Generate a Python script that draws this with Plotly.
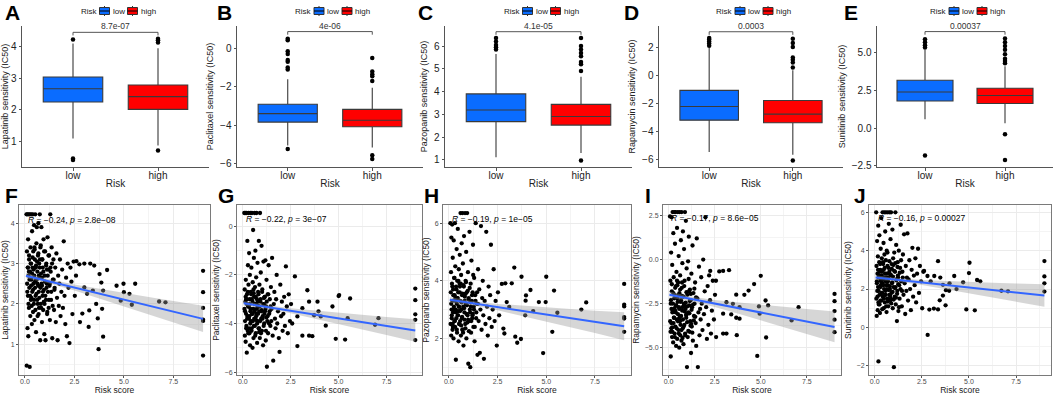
import numpy as np
import plotly.graph_objects as go

W, H = 1059, 395

# ---------------- box-plot panels (A-E) ----------------
drugs = ["Lapatinib", "Paclitaxel", "Pazopanib", "Rapamycin", "Sunitinib"]
groups = ["low", "high"]
box_letters = ["A", "B", "C", "D", "E"]
scatter_letters = ["F", "G", "H", "I", "J"]

low_q1 = [2.25, -3.83, 2.68, -3.22, 1.80]
low_median = [2.67, -3.39, 3.19, -2.24, 2.40]
low_q3 = [3.04, -2.90, 3.90, -1.09, 3.18]
low_lower = [1.10, -5.05, 1.12, -5.50, 0.60]
low_upper = [4.10, -1.60, 5.65, 1.95, 5.20]
high_q1 = [2.02, -4.07, 2.53, -3.41, 1.64]
high_median = [2.42, -3.73, 2.91, -2.79, 2.17]
high_q3 = [2.79, -3.17, 3.44, -1.82, 2.65]
high_lower = [0.88, -5.15, 1.30, -5.70, 0.33]
high_upper = [3.95, -2.05, 4.65, 0.35, 4.10]

low_outliers = [
    [4.22, 0.47, 0.42],
    [0.50, 0.42, -0.15, -0.30, -0.60, -0.70, -1.00, -1.10, -5.23],
    [5.85, 5.95, 6.05, 6.20, 6.35],
    [2.10, 2.25, 2.40, 2.55, 2.65],
    [5.35, 5.50, 5.70, 5.90, -1.80],
]
high_outliers = [
    [4.13, 4.20, 4.25, 0.72],
    [-0.50, -1.20, -1.35, -1.45, -1.70, -5.55, -5.75],
    [4.90, 5.20, 5.30, 5.55, 5.70, 5.85, 6.00, 6.35, 0.98],
    [0.55, 0.90, 1.10, 1.25, 2.00, 2.30, 2.60, -6.10],
    [4.30, 4.45, 4.60, 4.90, 5.20, 5.45, 5.70, 5.95, -0.40, -2.10],
]
p_values = ["8.7e-07", "4e-06", "4.1e-05", "0.0003", "0.00037"]
bracket_y = [4.45, 0.87, 6.63, 3.10, 6.40]
box_yrange = [[0.20, 4.65], [-6.16, 1.16], [0.69, 6.88], [-6.57, 3.51], [-2.57, 6.77]]
box_dtick = [1, 2, 1, 2, 2.5]
box_tickformat = ["", "", "", "", ".1f"]

# ---------------- scatter panels (F-J) ----------------
risk_dense = [
    0.08, 0.09, 0.10, 0.11, 0.12, 0.13, 0.14, 0.15, 0.16, 0.17,
    0.18, 0.19, 0.20, 0.21, 0.22, 0.24, 0.25, 0.26, 0.27, 0.28,
    0.30, 0.31, 0.32, 0.33, 0.35, 0.36, 0.37, 0.38, 0.40, 0.41,
    0.42, 0.43, 0.45, 0.46, 0.47, 0.48, 0.50, 0.51, 0.52, 0.54,
    0.55, 0.56, 0.58, 0.59, 0.60, 0.62, 0.63, 0.64, 0.66, 0.67,
    0.68, 0.70, 0.71, 0.72, 0.74, 0.75, 0.77, 0.78, 0.80, 0.81,
    0.83, 0.84, 0.86, 0.87, 0.89, 0.90, 0.92, 0.94, 0.96, 0.98,
    1.00, 1.02, 1.04, 1.06, 1.08, 1.10, 1.12, 1.14, 1.16, 1.18,
    1.20, 1.22, 1.24, 1.26, 1.28, 1.30, 1.32, 1.35, 1.38, 1.41,
    1.44, 1.47, 1.50, 1.53, 1.56, 1.59, 1.62, 1.65, 1.68, 1.71,
    1.74, 1.77, 1.80, 1.84, 1.88, 1.92, 1.96, 2.00, 2.04, 2.08,
    2.12, 2.16, 2.20, 2.25, 2.30, 2.35, 2.40, 2.46, 2.52, 2.58,
]
risk_core = [
    0.12, 0.15, 0.18, 0.21, 0.23, 0.26, 0.29, 0.31, 0.34, 0.36,
    0.39, 0.41, 0.44, 0.46, 0.49, 0.51, 0.53, 0.56, 0.58, 0.61,
    0.63, 0.65, 0.68, 0.70, 0.73, 0.75, 0.78, 0.80, 0.82, 0.85,
    0.88, 0.91, 0.93, 0.95, 0.97, 1.01, 1.03, 1.07, 1.09, 1.13,
    1.15, 1.19, 1.21, 1.25, 1.29, 1.33, 1.37, 1.40, 1.45, 1.49,
    0.20, 0.33, 0.48, 0.57, 0.69, 0.76, 0.86, 0.99, 1.11, 1.23,
]

lapatinib_dense = [
    4.22, 0.47, 3.3, 2.5, 4.22, 1.4, 2.9, 2.2, 3.6, 1.2,
    2.7, 4.22, 1.9, 3.1, 2.4, 0.44, 4.22, 2.8, 1.7, 3.4,
    2.1, 3.0, 4.22, 2.6, 1.5, 3.8, 2.3, 2.9, 4.22, 1.8,
    3.3, 2.5, 2.0, 3.95, 2.7, 1.6, 3.1, 2.4, 4.22, 2.2,
    2.9, 1.3, 3.5, 2.6, 3.9, 2.1, 2.8, 1.7, 3.2, 2.45,
    4.0, 2.3, 1.9, 3.0, 2.65, 4.22, 1.1, 3.4, 2.0, 2.75,
    3.9, 2.5, 1.55, 3.1, 2.2, 2.9, 1.85, 3.6, 2.35, 1.25,
    2.7, 3.3, 1.1, 2.1, 3.0, 2.5, 1.75, 3.65, 2.3, 2.85,
    1.9, 3.2, 2.45, 1.6, 4.22, 2.8, 2.1, 3.4, 1.15, 2.6,
    3.1, 1.85, 2.4, 2.9, 1.55, 3.25, 2.15, 1.1, 2.7, 1.95,
    2.5, 3.1, 1.7, 2.3, 2.85, 1.9, 3.55, 2.2, 1.5, 2.65,
    1.2, 3.0, 2.4, 1.03, 2.9, 2.55, 1.75, 3.05, 2.2, 2.7,
]
lapatinib_core = [
    2.3, 2.9, 2.0, 3.2, 2.6, 2.2, 3.0, 2.45, 1.95, 2.75,
    3.15, 2.35, 2.85, 2.1, 3.35, 2.55, 1.85, 2.95, 2.25, 3.05,
    2.5, 2.0, 3.25, 2.7, 2.15, 2.9, 2.4, 3.45, 1.9, 2.65,
    3.1, 2.3, 2.8, 2.05, 3.3, 2.55, 2.2, 2.95, 2.4, 1.8,
    2.7, 3.2, 2.1, 2.5, 2.9, 2.3, 3.0, 1.95, 2.6, 2.35,
    2.8, 2.15, 3.4, 2.6, 1.75, 3.1, 2.45, 2.0, 2.85, 2.5,
]
paclitaxel_dense = [
    0.55, -3.4, -2.6, -4.5, -3.9, 0.55, -3.1, -4.75, -2.2, -3.6,
    -3.0, -4.1, 0.55, -5.2, -2.8, -0.6, -3.7, -4.3, -1.6, -3.3,
    -2.4, 0.55, -3.8, -1.1, -4.4, -3.2, -2.0, -4.9, -3.5, 0.55,
    -2.7, -3.9, -1.7, -4.2, -3.0, 0.55, -3.6, -5.0, -2.3, -0.15,
    -3.4, -4.6, -1.3, -2.9, -3.8, 0.55, -4.1, -2.5, -1.0, -3.2,
    -4.4, -2.1, -3.6, 0.55, -3.0, -4.8, -1.5, -3.9, -2.7, -3.3,
    -4.2, -0.6, -3.5, -2.4, -4.6, 0.55, -3.1, -1.9, -3.8, -0.8,
    -4.3, -2.6, -3.7, -4.9, -1.45, -3.2, -4.0, -2.9, -3.5, -1.4,
    -4.7, -3.3, -2.2, -5.78, -3.9, -2.8, -4.4, -1.6, -3.6, -3.0,
    -4.1, -2.5, -3.4, -1.3, -4.5, -5.53, -3.2, -2.7, -3.8, -4.2,
    -3.0, -2.0, -4.0, -3.5, -4.6, -5.17, -2.4, -3.7, -3.1, -4.3,
    -3.6, -2.9, -4.1, -1.65, -3.3, -4.4, -2.8, -3.9, -3.2, -4.0,
]
paclitaxel_core = [
    -3.5, -2.9, -4.2, -3.2, -3.8, -2.7, -4.4, -3.3, -3.7, -3.0,
    -4.0, -3.4, -2.8, -4.3, -3.6, -3.1, -3.9, -2.6, -4.1, -3.5,
    -3.2, -4.5, -2.9, -3.7, -3.4, -4.0, -3.1, -3.6, -2.8, -4.2,
    -3.3, -3.9, -3.0, -4.4, -3.5, -2.7, -3.8, -3.2, -4.1, -3.6,
    -2.9, -3.4, -4.3, -3.1, -3.7, -2.8, -4.0, -3.5, -3.3, -3.9,
    -3.0, -4.2, -3.6, -2.75, -3.85, -3.25, -4.35, -3.45, -2.95, -3.75,
]
pazopanib_dense = [
    6.0, 2.5, 3.6, 4.3, 2.1, 5.5, 3.0, 2.8, 3.9, 5.95,
    3.3, 2.3, 4.8, 2.9, 3.7, 2.0, 5.4, 3.1, 4.1, 2.6,
    3.5, 6.0, 2.4, 4.5, 3.0, 1.26, 3.8, 2.7, 5.1, 3.2,
    2.2, 4.0, 3.4, 5.8, 2.8, 3.6, 1.9, 4.4, 3.1, 2.5,
    3.9, 4.9, 2.6, 3.3, 6.35, 2.1, 4.2, 3.0, 5.3, 2.7,
    3.5, 6.35, 2.3, 4.6, 3.1, 1.75, 3.8, 5.55, 2.9, 3.3,
    6.35, 2.5, 4.0, 3.2, 5.0, 2.0, 3.6, 6.35, 2.8, 4.3,
    1.12, 3.4, 2.6, 5.7, 3.0, 1.0, 3.9, 2.2, 4.7, 3.3,
    2.7, 3.6, 5.25, 2.4, 3.1, 4.1, 1.9, 3.5, 6.0, 2.9,
    3.2, 1.43, 4.4, 2.6, 3.7, 1.5, 3.0, 5.9, 2.3, 3.4,
    4.0, 2.8, 1.29, 3.3, 2.5, 5.7, 3.1, 2.1, 3.8, 2.7,
    3.5, 5.25, 2.4, 3.0, 4.4, 2.6, 3.3, 1.75, 3.6, 2.8,
]
pazopanib_core = [
    3.2, 2.7, 3.8, 2.4, 3.5, 3.0, 4.1, 2.6, 3.3, 2.9,
    3.7, 2.3, 3.4, 2.8, 4.0, 3.1, 2.5, 3.6, 2.95, 3.9,
    2.45, 3.25, 2.75, 3.55, 2.2, 3.85, 3.05, 2.65, 3.45, 2.35,
    3.95, 2.85, 3.15, 2.55, 3.65, 3.35, 2.25, 3.75, 2.9, 3.1,
    2.6, 3.5, 2.8, 4.2, 3.0, 2.4, 3.3, 2.7, 3.6, 3.2,
    2.5, 3.4, 2.95, 3.8, 2.3, 3.05, 3.55, 2.65, 3.25, 2.85,
]
rapamycin_dense = [
    2.45, -3.5, -1.2, -4.1, -5.5, -2.3, 0.4, -3.9, -2.8, 2.4,
    -1.8, -4.4, -0.3, -3.0, 2.7, -2.5, -4.7, 1.5, -3.6, -1.0,
    -3.3, 2.7, -2.0, -4.2, 0.9, -2.9, -3.8, 2.7, -1.5, -4.9,
    -2.6, -0.7, -3.4, 1.8, -4.5, -2.2, 2.7, -3.1, -1.3, -4.0,
    0.2, -2.7, -5.0, -1.9, 2.7, -3.5, -0.9, -4.3, -2.4, 1.1,
    -3.2, -4.6, 2.7, -1.6, -2.9, -0.2, -3.9, 1.6, -2.1, -4.8,
    -2.5, 0.6, -3.7, -1.2, 2.7, -4.2, -2.8, 2.2, -3.3, -0.5,
    -6.1, -2.0, -4.4, -0.1, -3.0, 1.3, -2.6, -4.1, -1.7, -3.5,
    -2.3, -5.3, -0.8, -3.8, -2.7, 0.8, -4.6, -1.9, -3.2, -2.5,
    -1.3, -3.6, -4.9, 1.2, -2.2, -6.1, -3.0, -0.4, -4.3, -2.8,
    -3.4, -1.0, -2.5, -4.0, 0.0, -3.1, -1.8, 2.4, -2.7, -4.5,
    -1.5, -3.7, -0.9, -2.3, -4.2, -2.9, -1.2, -3.4, -2.0, -4.4,
]
rapamycin_core = [
    -2.5, -3.6, -1.4, -4.1, -2.9, -1.9, -3.3, -2.2, -4.4, -1.6,
    -3.0, -2.6, -3.9, -1.2, -2.4, -3.5, -2.0, -4.2, -2.8, -3.2,
    -1.7, -3.7, -2.3, -4.0, -1.3, -2.7, -3.4, -2.1, -3.8, -1.5,
    -2.95, -4.3, -2.45, -3.15, -1.85, -3.55, -2.65, -4.05, -1.1, -3.05,
    -2.35, -3.75, -1.95, -2.85, -4.15, -2.55, -3.45, -1.65, -3.25, -2.15,
    -3.85, -2.75, -1.45, -3.35, -2.05, -4.45, -2.6, -3.1, -1.8, -3.65,
]
sunitinib_dense = [
    6.0, 1.5, 3.2, 0.6, 2.4, 4.5, 1.9, 2.8, 0.9, 3.7,
    2.1, 5.3, -1.77, 2.6, 1.2, 3.4, 4.8, 1.7, 2.9, 0.75,
    3.0, 1.4, 4.1, 2.2, 5.7, 1.8, 2.7, 3.6, 0.95, 2.3,
    6.0, 1.6, 3.3, 2.5, 4.4, 1.0, 2.0, 6.0, 3.8, 1.3,
    2.8, 5.0, 1.9, 3.5, 6.0, 2.2, 0.8, 4.0, 2.6, 1.5,
    3.9, 6.0, 2.4, 1.1, 3.1, 5.4, 1.7, 2.9, 6.0, 2.0,
    1.4, 4.6, 2.7, 6.0, 1.8, 3.3, 2.3, 5.1, 1.0, 3.6,
    2.1, -2.07, 3.9, 1.6, 2.9, 6.0, 1.2, 4.3, 2.5, 0.33,
    1.9, 3.4, 2.6, 0.85, 4.0, 2.2, 1.5, 3.1, 5.35, 2.4,
    1.1, 2.9, 3.8, 1.7, 4.85, 2.3, 0.7, 3.2, 1.9, 2.6,
    4.9, 1.4, 2.5, 3.5, 2.0, 0.9, 3.0, 4.15, 1.6, 2.7,
    2.2, 3.6, 1.3, 2.8, 4.1, 1.8, 3.2, 2.4, 1.0, 2.9,
]
sunitinib_core = [
    2.3, 1.6, 3.0, 1.9, 2.7, 1.2, 3.3, 2.1, 2.5, 1.4,
    2.9, 1.8, 3.4, 2.2, 1.5, 2.6, 3.1, 1.7, 2.4, 1.1,
    2.8, 2.0, 3.2, 1.35, 2.55, 1.95, 3.45, 2.15, 1.65, 2.75,
    1.25, 3.05, 2.35, 1.85, 2.65, 1.45, 2.95, 2.05, 3.35, 1.55,
    2.45, 1.75, 3.15, 2.25, 1.05, 2.85, 2.0, 3.5, 1.9, 2.6,
    1.3, 2.4, 3.0, 1.7, 2.2, 2.8, 1.5, 3.25, 2.1, 2.7,
]
dense_y = [lapatinib_dense, paclitaxel_dense, pazopanib_dense, rapamycin_dense, sunitinib_dense]
core_y = [lapatinib_core, paclitaxel_core, pazopanib_core, rapamycin_core, sunitinib_core]

lapatinib_sparse_x = [2.6, 2.75, 2.78, 2.9, 3.0, 3.0, 3.14, 3.22, 3.25, 3.3,
                      3.43, 3.5, 3.6, 3.68, 3.72, 3.77, 3.86, 3.9, 3.95, 3.95,
                      4.15, 4.63, 4.84, 4.98, 5.0, 5.28, 5.4, 5.57, 6.78, 7.1,
                      9, 9, 9, 9, 9, 9]
lapatinib_sparse_y = [3.06, 2.98, 1.55, 1.76, 3.0, 2.41, 2.25, 1.43, 1.84, 3.0,
                      2.33, 2.95, 2.0, 1.64, 0.88, 2.74, 2.53, 1.88, 1.19, 2.33,
                      2.84, 2.45, 2.08, 2.5, 2.29, 2.25, 1.98, 2.5, 2.06, 2.04,
                      2.82, 2.29, 1.9, 1.61, 1.58, 0.72]
paclitaxel_sparse_x = [2.72, 2.85, 2.85, 3.11, 3.11, 3.37, 3.46, 3.46, 3.63, 3.72,
                       3.9, 3.95, 4.07, 4.33, 4.68, 4.85, 5.0, 5.03, 5.34, 5.47,
                       5.6, 6.9, 7.08, 9, 9, 9, 9, 9]
paclitaxel_sparse_y = [-2.06, -4.93, -3.71, -4.5, -3.37, -2.63, -3.1, -4.5, -4.52, -3.66,
                       -3.1, -3.5, -3.71, -4.09, -3.3, -4.63, -2.87, -2.83, -4.66, -3.78,
                       -2.97, -4.05, -3.78, -2.56, -3.04, -3.62, -3.85, -4.68]
pazopanib_sparse_x = [2.72, 2.8, 2.85, 2.9, 2.97, 3.1, 3.23, 3.36, 3.41, 3.51,
                      3.7, 3.73, 3.92, 3.94, 3.96, 4.19, 4.33, 4.62, 4.84, 4.97,
                      5.0, 5.31, 5.4, 5.57, 6.8, 7.05, 9, 9, 9, 9, 9, 9]
pazopanib_sparse_y = [3.89, 2.34, 2.17, 3.91, 3.26, 3.09, 3.91, 4.46, 2.06, 1.85,
                      1.98, 4.14, 2.8, 3.31, 3.49, 3.68, 2.95, 3.26, 1.49, 3.26,
                      4.14, 2.23, 3.66, 2.89, 3.0, 3.25, 3.89, 3.17, 3.11, 2.74, 2.69, 2.23]
rapamycin_sparse_x = [2.26, 2.57, 2.75, 2.96, 2.96, 2.96, 3.14, 3.14, 3.28, 3.4,
                      3.49, 3.67, 3.67, 3.7, 3.85, 3.85, 4.11, 4.34, 4.64, 4.81,
                      4.9, 4.94, 5.0, 5.26, 5.29, 5.4, 6.67, 7.05, 9, 9, 9, 9, 9]
rapamycin_sparse_y = [-0.64, -1.2, -0.67, -0.64, -3.07, -4.2, -2.42, -4.2, -0.6, -3.11,
                      -2.51, -1.99, -3.3, -4.29, -2.7, -3.35, -2.0, -1.76, -1.39, -5.47,
                      -2.66, -3.07, -0.92, -2.32, -4.42, -2.6, -3.45, -2.7,
                      -1.95, -2.36, -2.92, -3.41, -4.12]
sunitinib_sparse_x = [2.62, 2.8, 2.81, 2.9, 2.97, 3.14, 3.16, 3.36, 3.36, 3.45,
                      3.48, 3.62, 3.62, 3.76, 3.78, 3.95, 3.97, 4.22, 4.34, 4.69,
                      4.86, 5.0, 5.03, 5.31, 5.43, 5.6, 6.72, 7.07, 9, 9, 9, 9]
sunitinib_sparse_y = [2.94, 2.68, -0.39, 0.93, 2.4, 0.98, 2.68, 3.45, 0.94, 1.41,
                      2.6, 2.22, 1.66, 1.15, 1.94, 1.91, 2.3, 2.68, 2.0, 2.35,
                      0.94, 2.83, 3.37, 0.89, 2.47, 2.4, 1.91, 1.88,
                      3.46, 2.66, 2.3, 1.87]
sparse_x = [lapatinib_sparse_x, paclitaxel_sparse_x, pazopanib_sparse_x, rapamycin_sparse_x, sunitinib_sparse_x]
sparse_y = [lapatinib_sparse_y, paclitaxel_sparse_y, pazopanib_sparse_y, rapamycin_sparse_y, sunitinib_sparse_y]

# fitted regression line (value at x=0.05 and x=9) and 95% CI half-widths
fit_x = [0.05, 9.0]
fit_start = [2.70, -3.17, 3.34, -1.99, 2.60]
fit_end = [1.63, -4.29, 2.42, -3.82, 1.66]
band_x = [0.05, 1.1, 2.5, 3.75, 5.0, 6.25, 7.5, 9.0]
band_halfwidth = [
    [0.065, 0.05, 0.075, 0.117, 0.165, 0.215, 0.265, 0.325],
    [0.095, 0.07, 0.105, 0.167, 0.235, 0.305, 0.375, 0.465],
    [0.10, 0.075, 0.11, 0.175, 0.245, 0.32, 0.39, 0.485],
    [0.175, 0.13, 0.20, 0.315, 0.445, 0.575, 0.705, 0.87],
    [0.12, 0.09, 0.135, 0.21, 0.30, 0.385, 0.475, 0.585],
]
cor_r = ["−0.24", "−0.22", "−0.19", "−0.17", "−0.16"]
cor_p = ["2.8e−08", "3e−07", "1e−05", "8.6e−05", "0.00027"]
label_y = [4.22, 0.55, 6.35, 2.7, 6.0]
sc_yrange = [[0.24, 4.45], [-6.12, 0.88], [0.73, 6.63], [-6.55, 3.10], [-2.48, 6.38]]
sc_dtick = [1, 2, 2, 2.5, 2]
sc_tickformat = ["", "", "", ".1f", ""]
sc_xrange = [-0.3, 9.35]

# ---------------- layout geometry (pixels) ----------------
top_px = [(22, 209), (237, 423), (445, 632), (659, 843), (877, 1053)]
bot_px = [(19, 210), (237, 422), (443, 631), (663, 841), (869, 1051)]
top_y = (26, 167)
bot_y = (205, 375)
top_letter_x = [3, 215, 416, 622, 842]
bot_letter_x = [3, 216, 422, 643, 852]

LOW_COL = "#0A6CFF"
HIGH_COL = "#FF0000"
FONT = "Arial, Liberation Sans, sans-serif"


def fx(p):
    return p / W


def fy(p):
    return 1 - p / H


fig = go.Figure()
layout = {}
annotations = []
shapes = []

for i in range(5):
    k = i + 1
    xa, ya = f"x{k}", f"y{k}"
    lows = [low_q1[i], low_median[i], low_q3[i], low_lower[i], low_upper[i]]
    highs = [high_q1[i], high_median[i], high_q3[i], high_lower[i], high_upper[i]]
    for g, st, col in (("low", lows, LOW_COL), ("high", highs, HIGH_COL)):
        fig.add_trace(go.Box(
            x=[g], q1=[st[0]], median=[st[1]], q3=[st[2]],
            lowerfence=[st[3]], upperfence=[st[4]],
            fillcolor=col, line=dict(color="#3a3a3a", width=1.1),
            width=0.7, whiskerwidth=0, boxpoints=False,
            showlegend=False, xaxis=xa, yaxis=ya, name=g))
    for g, outs in (("low", low_outliers[i]), ("high", high_outliers[i])):
        fig.add_trace(go.Scatter(
            x=[g] * len(outs), y=outs, mode="markers",
            marker=dict(color="black", size=4.5), showlegend=False,
            xaxis=xa, yaxis=ya, hoverinfo="y"))
    span = box_yrange[i][1] - box_yrange[i][0]
    tip = 0.022 * span
    b = bracket_y[i]
    fig.add_trace(go.Scatter(
        x=["low", "low", "high", "high"], y=[b - tip, b, b, b - tip],
        mode="lines", line=dict(color="#555", width=1),
        showlegend=False, xaxis=xa, yaxis=ya, hoverinfo="skip"))
    annotations.append(dict(
        x=0.5, y=b, xref=xa, yref=ya, text=p_values[i], showarrow=False,
        yanchor="bottom", yshift=-1, font=dict(size=8.5, color="#333", family=FONT)))

    x0, x1 = top_px[i]
    layout[f"xaxis{k}"] = dict(
        domain=[fx(x0), fx(x1)], anchor=ya, type="category",
        categoryorder="array", categoryarray=groups, range=[-0.6, 1.6],
        showline=True, linecolor="#555", linewidth=1, ticks="outside",
        ticklen=2.5, tickcolor="#555", showgrid=False, zeroline=False,
        ticklabelstandoff=-4,
        tickfont=dict(size=10, color="#222", family=FONT),
        title=dict(text="Risk", standoff=0, font=dict(size=10, color="#222", family=FONT)))
    layout[f"yaxis{k}"] = dict(
        domain=[fy(top_y[1]), fy(top_y[0])], anchor=xa, range=box_yrange[i],
        dtick=box_dtick[i], tick0=0, tickformat=box_tickformat[i],
        showline=True, linecolor="#555", linewidth=1, ticks="outside",
        ticklen=2.5, tickcolor="#555", showgrid=False, zeroline=False,
        tickfont=dict(size=10, color="#222", family=FONT),
        title=dict(text=f"{drugs[i]} sensitivity (IC50)", standoff=4,
                   font=dict(size=9, color="#222", family=FONT)))

    # legend built from layout elements
    cx = (x0 + x1) / 2
    L = cx - 36
    ly = 11
    annotations.append(dict(x=fx(L), y=fy(ly), xref="paper", yref="paper", text="Risk",
                            showarrow=False, xanchor="left", yanchor="middle", borderpad=0,
                            font=dict(size=8, color="#222", family=FONT)))
    for off, col, lab in ((20, LOW_COL, "low"), (48, HIGH_COL, "high")):
        kx0, kx1 = L + off, L + off + 10
        shapes.append(dict(type="line", xref="paper", yref="paper",
                           x0=fx((kx0 + kx1) / 2), x1=fx((kx0 + kx1) / 2),
                           y0=fy(ly - 5), y1=fy(ly + 5), line=dict(color="#333", width=1)))
        shapes.append(dict(type="rect", xref="paper", yref="paper",
                           x0=fx(kx0), x1=fx(kx1), y0=fy(ly - 3.5), y1=fy(ly + 3.5),
                           fillcolor=col, line=dict(color="#333", width=1)))
        shapes.append(dict(type="line", xref="paper", yref="paper",
                           x0=fx(kx0), x1=fx(kx1), y0=fy(ly), y1=fy(ly),
                           line=dict(color="#000", width=1)))
        annotations.append(dict(x=fx(kx1 + 2), y=fy(ly), xref="paper", yref="paper", text=lab,
                                showarrow=False, xanchor="left", yanchor="middle", borderpad=0,
                                font=dict(size=8, color="#222", family=FONT)))
    annotations.append(dict(x=fx(top_letter_x[i]), y=fy(12), xref="paper", yref="paper",
                            text=f"<b>{box_letters[i]}</b>", showarrow=False,
                            xanchor="left", yanchor="middle",
                            font=dict(size=21, color="black", family=FONT)))

for i in range(5):
    k = i + 6
    xa, ya = f"x{k}", f"y{k}"
    assert len(risk_dense) == len(dense_y[i])
    assert len(risk_core) == len(core_y[i])
    assert len(sparse_x[i]) == len(sparse_y[i])
    xs = risk_dense + risk_core + sparse_x[i]
    ys = dense_y[i] + core_y[i] + sparse_y[i]
    fig.add_trace(go.Scatter(
        x=xs, y=ys, mode="markers", marker=dict(color="black", size=4.3),
        showlegend=False, xaxis=xa, yaxis=ya))
    line_at_band = np.interp(band_x, fit_x, [fit_start[i], fit_end[i]])
    hw = np.array(band_halfwidth[i])
    upper = line_at_band + hw
    lower = line_at_band - hw
    fig.add_trace(go.Scatter(
        x=list(band_x) + list(band_x[::-1]),
        y=list(upper) + list(lower[::-1]),
        fill="toself", fillcolor="rgba(153,153,153,0.4)", line=dict(width=0),
        mode="lines", showlegend=False, xaxis=xa, yaxis=ya, hoverinfo="skip"))
    fig.add_trace(go.Scatter(
        x=fit_x, y=[fit_start[i], fit_end[i]], mode="lines",
        line=dict(color="#3366FF", width=2), showlegend=False,
        xaxis=xa, yaxis=ya))
    annotations.append(dict(
        x=0.05, y=label_y[i], xref=xa, yref=ya,
        text=f"<i>R</i> = {cor_r[i]}, <i>p</i> = {cor_p[i]}",
        showarrow=False, xanchor="left", yanchor="top", yshift=1,
        font=dict(size=8.5, color="black", family=FONT)))

    x0, x1 = bot_px[i]
    common = dict(showline=True, mirror=True, linecolor="#7a7a7a", linewidth=1,
                  ticks="outside", ticklen=2, tickcolor="#555", zeroline=False,
                  showgrid=True, gridcolor="#EBEBEB", gridwidth=1,
                  tickfont=dict(size=7, color="#4d4d4d", family=FONT))
    layout[f"xaxis{k}"] = dict(
        domain=[fx(x0), fx(x1)], anchor=ya, range=sc_xrange, dtick=2.5, tick0=0,
        tickformat=".1f", ticklabelstandoff=-2,
        minor=dict(dtick=1.25, tick0=0, showgrid=True, gridcolor="#F4F4F4", gridwidth=0.6, ticks=""),
        title=dict(text="Risk score", standoff=3, font=dict(size=8.5, color="#222", family=FONT)),
        **common)
    layout[f"yaxis{k}"] = dict(
        domain=[fy(bot_y[1]), fy(bot_y[0])], anchor=xa, range=sc_yrange[i],
        dtick=sc_dtick[i], tick0=0, tickformat=sc_tickformat[i],
        minor=dict(dtick=sc_dtick[i] / 2, tick0=0, showgrid=True, gridcolor="#F4F4F4", gridwidth=0.6, ticks=""),
        title=dict(text=f"{drugs[i]} sensitivity (IC50)", standoff=3,
                   font=dict(size=8.5, color="#222", family=FONT)),
        **common)
    annotations.append(dict(x=fx(bot_letter_x[i]), y=fy(195), xref="paper", yref="paper",
                            text=f"<b>{scatter_letters[i]}</b>", showarrow=False,
                            xanchor="left", yanchor="middle",
                            font=dict(size=21, color="black", family=FONT)))

fig.update_layout(
    width=W, height=H, margin=dict(l=0, r=0, t=0, b=0),
    paper_bgcolor="white", plot_bgcolor="white", template="none",
    font=dict(family=FONT), showlegend=False,
    annotations=annotations, shapes=shapes, **layout)

fig.write_html("out.html", config={"displayModeBar": False})

# remove the browser's default 8px body margin so the figure sits at the page origin
with open("out.html", "r", encoding="utf-8") as fh:
    html = fh.read()
html = html.replace("<body>", '<body style="margin:0;padding:0;overflow:hidden">', 1)
with open("out.html", "w", encoding="utf-8") as fh:
    fh.write(html)
